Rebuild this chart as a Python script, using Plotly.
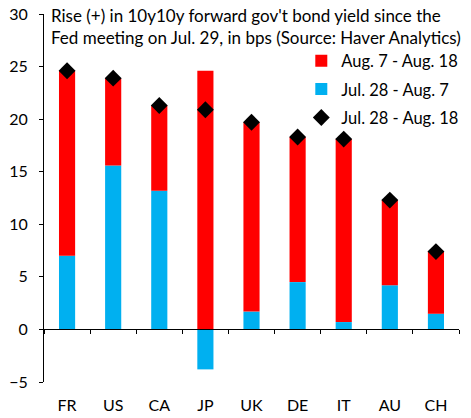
import plotly.graph_objects as go

countries = ["FR", "US", "CA", "JP", "UK", "DE", "IT", "AU", "CH"]
jul28_aug7 = [7.0, 15.6, 13.2, -3.8, 1.7, 4.5, 0.7, 4.2, 1.5]
aug7_aug18 = [17.6, 8.3, 8.1, 24.6, 18.0, 13.8, 17.4, 8.1, 5.9]
jul28_aug18 = [24.6, 23.9, 21.3, 20.9, 19.7, 18.3, 18.1, 12.3, 7.4]
y_ticks = [-5, 0, 5, 10, 15, 20, 25, 30]

FONT = "Lato"
RED = "#FF0000"
BLUE = "#00B0F0"

fig = go.Figure()
fig.add_trace(go.Bar(x=countries, y=jul28_aug7, name="Jul. 28 - Aug. 7",
                     marker=dict(color=BLUE, line=dict(width=0)), width=0.35,
                     legendrank=2, legendgroup="b"))
fig.add_trace(go.Bar(x=countries, y=aug7_aug18, name="Aug. 7 - Aug. 18",
                     marker=dict(color=RED, line=dict(width=0)), width=0.35,
                     legendrank=1, legendgroup="a"))
fig.add_trace(go.Scatter(x=countries, y=jul28_aug18, name="Jul. 28 - Aug. 18",
                         mode="markers", xaxis="x2",
                         marker=dict(symbol="diamond", size=13, color="black"),
                         legendrank=3, legendgroup="c"))

fig.update_layout(
    width=471, height=418,
    margin=dict(l=44, r=12, t=14, b=36, autoexpand=False),
    paper_bgcolor="white", plot_bgcolor="white",
    barmode="relative",
    font=dict(family=FONT, size=16, color="black"),
    showlegend=True,
    legend=dict(x=0.62, y=0.92, xanchor="left", yanchor="top",
                bgcolor="rgba(0,0,0,0)", font=dict(size=16.5),
                tracegroupgap=4),
    xaxis=dict(type="category", range=[-0.5, 8.5], anchor="free",
               position=5 / 35, showline=True, linecolor="black", linewidth=1,
               ticks="outside", tickson="boundaries", ticklen=4,
               tickcolor="black", showticklabels=False, showgrid=False,
               zeroline=False, automargin=False),
    xaxis2=dict(type="category", range=[-0.5, 8.5], overlaying="x",
                anchor="y", side="bottom", showline=False, ticks="",
                showgrid=False, zeroline=False, ticklabelstandoff=12,
                automargin=False),
    yaxis=dict(range=[-5, 30], tickvals=y_ticks, showline=True,
               linecolor="black", linewidth=1, ticks="outside", ticklen=4,
               tickcolor="black", showgrid=False, zeroline=False,
               ticklabelstandoff=8, automargin=False),
    annotations=[dict(
        text="Rise (+) in 10y10y forward gov't bond yield since the<br>"
             "Fed meeting on Jul. 29, in bps (Source: Haver Analytics)",
        xref="paper", yref="paper", x=0.012, y=1.03, xanchor="left",
        yanchor="top", align="left", showarrow=False,
        font=dict(size=17, family=FONT))],
)

fig.write_html("out.html",
               config={"displayModeBar": False},
               post_script="document.body.style.margin='0';"
                           "document.body.style.padding='0';")
